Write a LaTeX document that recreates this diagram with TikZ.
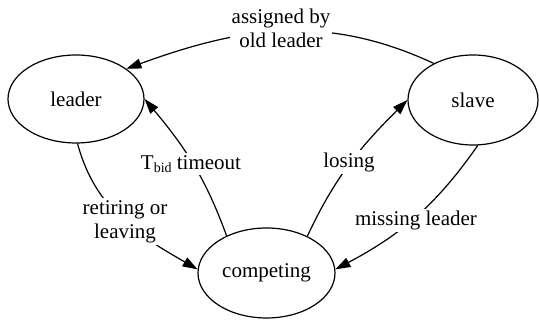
\documentclass[tikz,border=0pt]{standalone}
\usepackage{fontspec}
\setmainfont{Liberation Serif}
\usetikzlibrary{shapes.geometric,arrows.meta}
\begin{document}
\begin{tikzpicture}[x=1pt,y=1pt,
  state/.style={draw, ellipse, line width=1.2pt, inner sep=0pt, font=\fontsize{21}{24}\selectfont},
  lab/.style={fill=white, inner sep=2pt, align=center, font=\fontsize{21}{24}\selectfont},
  arr/.style={line width=1.2pt, -{Triangle[length=15pt,width=10pt]}}]
\useasboundingbox (0,0) rectangle (539,320);
\node[state, minimum width=136pt, minimum height=88pt] (ld) at (76,221) {leader};
\node[state, minimum width=130pt, minimum height=90pt] (sl) at (473,220) {slave};
\node[state, minimum width=137pt, minimum height=90pt] (cp) at (266.5,47) {competing};
% edges
\draw[arr] (sl.137.6) to[out=155, in=20] (ld.31);
\draw[arr] (ld.-88) to[out=-75, in=150] (cp.177);
\draw[arr] (cp.137.5) to[out=110, in=-50] (ld.0);
\draw[arr] (cp.42.5) to[out=65, in=-135] (sl.180);
\draw[arr] (sl.-84) to[out=-125, in=28] (cp.3);
% labels
\node[lab] (l1) at (281,292) {assigned by\\old leader};
\node[lab] (l2) at (125,98.5) {retiring or\\leaving};
\node[lab] (l3) at (191,156) {T\raisebox{-3pt}{\fontsize{14}{14}\selectfont bid} timeout};
\node[lab] (l4) at (349,158) {losing};
\node[lab] (l5) at (416,99.5) {missing leader};
\end{tikzpicture}
\end{document}
